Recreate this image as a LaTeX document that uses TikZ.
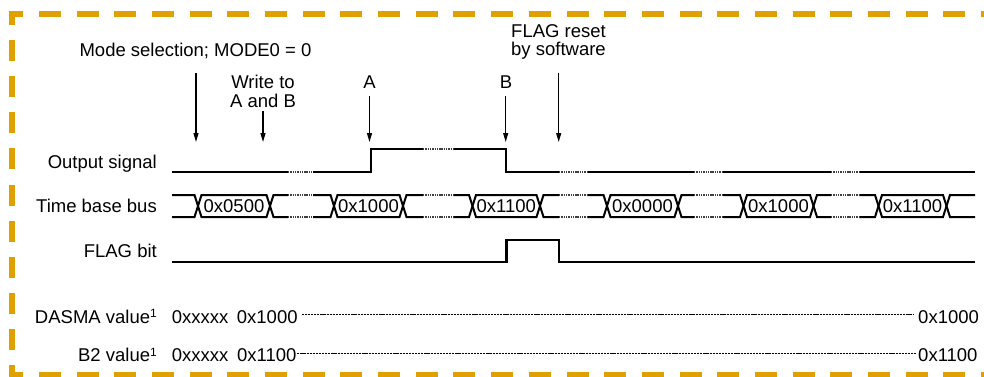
\documentclass[tikz,border=0pt]{standalone}
\usepackage{fontspec}
\setmainfont{Liberation Sans}
\usetikzlibrary{arrows.meta}
\definecolor{framegold}{RGB}{224,160,0}
\newcommand\supone{\raisebox{5.5pt}{\fontsize{12}{12}\selectfont 1}}
\begin{document}
\begin{tikzpicture}[x=1pt,y=-1pt,
  every node/.style={inner sep=0pt, font=\fontsize{18.5}{22}\selectfont},
  lbl/.style={anchor=base},
  rowlbl/.style={anchor=base east},
  vallbl/.style={anchor=base west},
  sig/.style={line width=2.5pt, line join=miter},
  busline/.style={line width=2pt, line join=miter},
  brk/.style={line width=1.8pt, black!75, dash pattern=on 1.4pt off 0.9pt},
  brkbus/.style={line width=1.4pt, black!75, dash pattern=on 1.4pt off 0.9pt},
  marker/.style={line width=1.2pt, -{Triangle[length=9pt,width=5pt]}},
  valdots/.style={line width=1pt, dash pattern=on 2.2pt off 0.9pt},
  framedash/.style={fill=framegold}]

\useasboundingbox (0,0) rectangle (984,377);

% dashed frame (right side runs off the picture)
\fill[framedash] (9.25,11.25) rectangle (23.3,16.75);
\fill[framedash] (9.25,11.25) rectangle (14.75,25);
\foreach \i in {0,...,9} \fill[framedash] (9.25,40.1+36.1*\i) rectangle (14.75,61.1+36.1*\i);
\fill[framedash] (9.25,365) rectangle (14.75,377.75);
\fill[framedash] (9.25,372.25) rectangle (23.3,377.75);
\foreach \i in {0,...,25} {
  \fill[framedash] (39+37.68*\i,11.25) rectangle (61+37.68*\i,16.75);
  \fill[framedash] (39+37.68*\i,372.25) rectangle (61+37.68*\i,377.75);
}

% annotations
\node[lbl] (modesel) at (195.5,56.5) {Mode selection; MODE0 = 0};
\node[lbl] (write1) at (263,89) {Write to};
\node[lbl] (write2) at (263,107) {A and B};
\node[lbl] (labA) at (369.5,89) {A};
\node[lbl] (labB) at (506,89) {B};
\node[lbl] (flag1) at (558.5,38) {FLAG reset};
\node[lbl] (flag2) at (558.5,56) {by software};

\coordinate (mTop) at (196,73);    \coordinate (mTip) at (196,142);
\coordinate (wTop) at (263,111);   \coordinate (wTip) at (263,142);
\coordinate (aTop) at (369.5,96);  \coordinate (aTip) at (369.5,142);
\coordinate (bTop) at (505.7,96);  \coordinate (bTip) at (505.7,142);
\coordinate (fTop) at (558.7,73);  \coordinate (fTip) at (558.7,142);
\draw[marker] (mTop) -- (mTip);
\draw[marker] (wTop) -- (wTip);
\draw[marker] (aTop) -- (aTip);
\draw[marker] (bTop) -- (bTip);
\draw[marker] (fTop) -- (fTip);

% row labels
\node[rowlbl] (outlbl) at (157,168.3) {Output signal};
\node[rowlbl] (buslbl) at (157,212.6) {Time base bus};
\node[rowlbl] (flaglbl) at (157,257.7) {FLAG bit};
\node[rowlbl] (dasmalbl) at (157,323.3) {DASMA value\supone};
\node[rowlbl] (b2lbl) at (157,361.7) {B2 value\supone};

% output signal
\draw[sig] (172,172) -- (371,172) -- (371,149) -- (506,149) -- (506,172) -- (975,172);

% time base bus
\draw[busline] (172,195) -- (194.5,195) -- (201.5,217) -- (266.5,217) -- (273.5,195) -- (330.5,195) -- (337.5,217) -- (399.5,217) -- (406.5,195) -- (469,195) -- (476,217) -- (536.5,217) -- (543.5,195) -- (603.5,195) -- (610.5,217) -- (674.5,217) -- (681.5,195) -- (740,195) -- (747,217) -- (810,217) -- (817,195) -- (875,195) -- (882,217) -- (943,217) -- (950,195) -- (975,195);
\draw[busline] (172,217) -- (194.5,217) -- (201.5,195) -- (266.5,195) -- (273.5,217) -- (330.5,217) -- (337.5,195) -- (399.5,195) -- (406.5,217) -- (469,217) -- (476,195) -- (536.5,195) -- (543.5,217) -- (603.5,217) -- (610.5,195) -- (674.5,195) -- (681.5,217) -- (740,217) -- (747,195) -- (810,195) -- (817,217) -- (875,217) -- (882,195) -- (943,195) -- (950,217) -- (975,217);

% time breaks
\foreach \a/\b/\lvl in {288/313/172, 423/453/149, 559/587/172, 694/723/172, 831/859/172} {
  \fill[white] (\a,146) rectangle (\b,219.5);
  \draw[brk] (\a,\lvl) -- (\b,\lvl);
  \draw[brkbus] (\a,195) -- (\b,195);
  \draw[brkbus] (\a,217) -- (\b,217);
}

\node[lbl] (h1) at (234,212.6) {0x0500};
\node[lbl] (h2) at (368.5,212.6) {0x1000};
\node[lbl] (h3) at (506.25,212.6) {0x1100};
\node[lbl] (h4) at (642.5,212.6) {0x0000};
\node[lbl] (h5) at (778.5,212.6) {0x1000};
\node[lbl] (h6) at (912.5,212.6) {0x1100};

% FLAG bit
\draw[sig] (172,262) -- (506.7,262) -- (506.7,240) -- (559,240) -- (559,262) -- (975,262);

% register values
\node[vallbl] (dx) at (171.7,323.3) {0xxxxx};
\node[vallbl] (dv1) at (236.7,323.3) {0x1000};
\node[vallbl] (dv2) at (918,323.3) {0x1000};
\draw[valdots] ([xshift=4pt,yshift=8.5pt]dv1.base east) -- ([xshift=-5pt,yshift=8.5pt]dv2.base west);

\node[vallbl] (bx) at (171.7,361.7) {0xxxxx};
\node[vallbl] (bv1) at (237,361.7) {0x1100};
\node[vallbl] (bv2) at (918,361.7) {0x1100};
\draw[valdots] ([xshift=0.5pt,yshift=8.5pt]bv1.base east) -- ([xshift=-1.3pt,yshift=8.5pt]bv2.base west);
\end{tikzpicture}
\end{document}
